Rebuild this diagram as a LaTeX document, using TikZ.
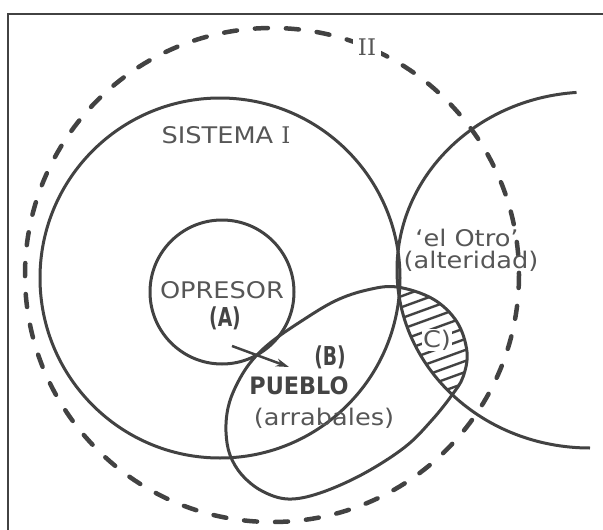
\documentclass[tikz,border=0pt]{standalone}
\usepackage{fontspec}
\usepackage{graphicx}
\setmainfont{DejaVu Sans}
\newfontfamily\widefont{DejaVu Sans}[FakeStretch=1.12]
\newfontfamily\numfont{DejaVu Serif}
\usetikzlibrary{arrows.meta}
\definecolor{ink}{RGB}{66,66,66}
\definecolor{txt}{RGB}{86,86,86}
\definecolor{boldtxt}{RGB}{68,68,68}

% outline of the "pueblo" region (pixel-like coordinates, y grows downward)
\newcommand\pueblopath{plot[smooth cycle, tension=0.6] coordinates {
  (397,287) (433,299) (457,322) (467,352) (463,377) (452,395) (432,420)
  (405,447) (363,474) (320,493) (288,499) (262,491) (242,475) (230,455)
  (226,432) (228,408) (236,386) (250,363) (270,343) (300,322) (335,301)
  (367,290)}}

\begin{document}
\begin{tikzpicture}[x=1pt,y=-1pt,
  ringline/.style={draw=ink,line width=3pt},
  framerule/.style={draw=ink,line width=2pt},
  dashring/.style={draw=ink,line width=4.5pt,line cap=round,dash pattern=on 13pt off 18pt},
  hatchrule/.style={draw=ink,line width=2.4pt},
  plaintext/.style={text=txt,inner sep=0pt,font=\widefont\fontsize{22.9}{26}\selectfont},
  boldtext/.style={text=boldtxt,inner sep=0pt,font=\fontsize{24}{28}\selectfont\bfseries},
  pointer/.style={draw=ink,line width=2.5pt,-{Stealth[length=13pt,width=8pt]}},
]
\useasboundingbox (0,0) rectangle (603,530);

% page frame
\draw[framerule] (7,14) -- (603,14);
\draw[framerule] (8,13) -- (8,530);

% system II (dashed)
\draw[dashring] (272,275) circle[radius=247];

% system I
\draw[ringline] (220,278) circle[radius=180];

% oppressor
\draw[ringline] (222,292) circle[radius=72];

% the Other (left half of a large ellipse)
\draw[ringline] (590,270) ++(90:193 and 178)
  arc[start angle=90,end angle=266,x radius=193,y radius=178];

% people
\draw[ringline] \pueblopath;

% hatched overlap of people and the Other
\begin{scope}
  \clip \pueblopath;
  \clip (590,270) ellipse[x radius=193,y radius=178];
  \foreach \k in {0,...,15}
    \draw[hatchrule] (380,282+\k*11) -- ++(110,-40);
\end{scope}

% arrow from oppressor towards people
\coordinate (tail) at (232,346);
\coordinate (head) at (289,367);
\draw[pointer] (tail) -- (head);

% labels
\node[plaintext,fill=white,inner xsep=5pt,inner ysep=3pt] (sysII) at (367,47) {\numfont II};
\node[plaintext] (sysI) at (226,135) {SISTEMA {\numfont I}};
\node[plaintext] (opresor) at (222,290) {OPRESOR};
\node[boldtext,font=\fontsize{26}{30}\selectfont\bfseries] (lblA) at (225,318) {\scalebox{0.72}[1]{(A)}};
\node[boldtext,font=\fontsize{26}{30}\selectfont\bfseries] (lblB) at (330,357) {\scalebox{0.72}[1]{(B)}};
\node[boldtext] (pueblo) at (299,386) {\scalebox{0.93}[1]{PUEBLO}};
\node[plaintext] (arrabales) at (324,418) {(arrabales)};
\node[plaintext] (otro) at (467,238) {‘el Otro’};
\node[plaintext] (alteridad) at (471,261) {(alteridad)};
\node[plaintext,fill=white,inner sep=1pt] (lblC) at (437,340) {C)};
\end{tikzpicture}
\end{document}
